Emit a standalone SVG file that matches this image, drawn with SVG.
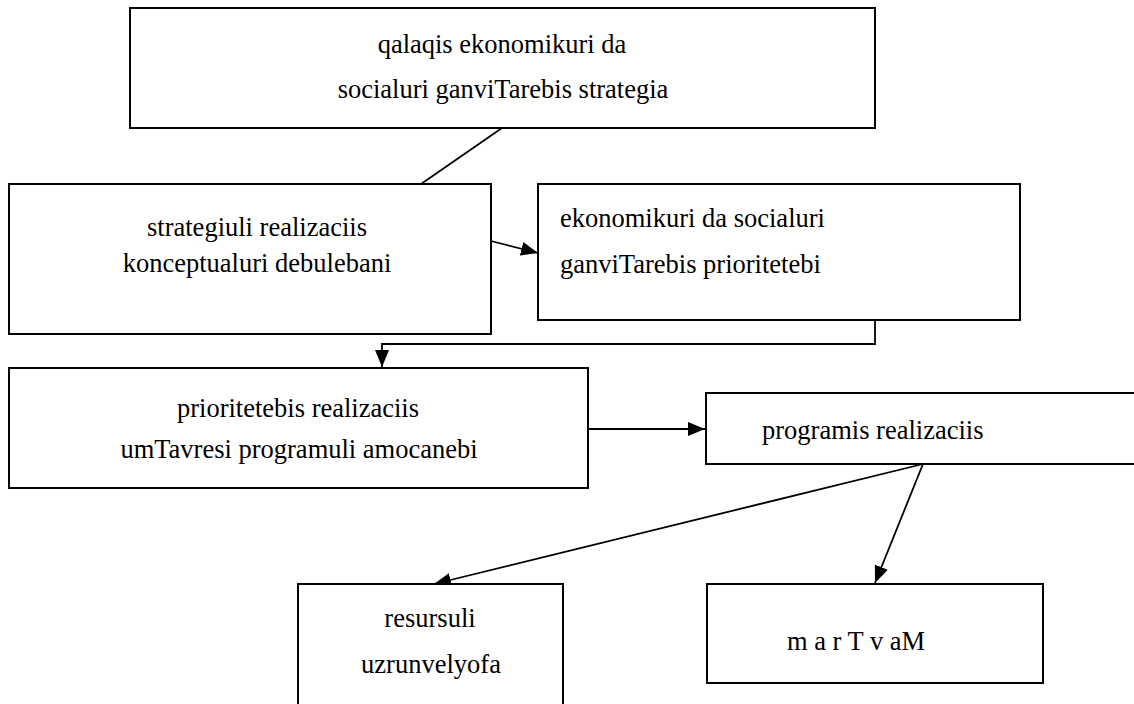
<svg xmlns="http://www.w3.org/2000/svg" width="1134" height="704" viewBox="0 0 1134 704">
<style>
.box{fill:#fff;stroke:#000;stroke-width:2}
.t{font-family:"Liberation Serif","Times New Roman",serif;font-size:26.5px;fill:#000}
.c{text-anchor:middle}
.ln{stroke:#000;stroke-width:1.8;fill:none}
</style>
<defs>
<marker id="ah" markerUnits="userSpaceOnUse" markerWidth="18" markerHeight="14" refX="17" refY="7" orient="auto">
<path d="M0,0 L17,7 L0,14 Z" fill="#000"/>
</marker>
</defs>
<rect width="1134" height="704" fill="#fff"/>
<g id="connectors">
<line class="ln" x1="502" y1="128" x2="421" y2="184"/>
<line class="ln" x1="491" y1="241" x2="538" y2="253" marker-end="url(#ah)"/>
<polyline class="ln" points="875,320 875,344 382,344 382,367" marker-end="url(#ah)"/>
<line class="ln" x1="588" y1="429" x2="705" y2="429" marker-end="url(#ah)"/>
<line class="ln" x1="923" y1="464" x2="434" y2="584" marker-end="url(#ah)"/>
<line class="ln" x1="923" y1="464" x2="875" y2="583" marker-end="url(#ah)"/>
</g>
<g id="n1">
<rect class="box" x="130" y="8" width="745" height="120"/>
<text class="t c" x="502" y="53">qalaqis ekonomikuri da</text>
<text class="t c" x="503" y="98">socialuri ganviTarebis strategia</text>
</g>
<g id="n2">
<rect class="box" x="9" y="184" width="482" height="150"/>
<text class="t c" x="257" y="236">strategiuli realizaciis</text>
<text class="t c" x="257" y="272">konceptualuri debulebani</text>
</g>
<g id="n3">
<rect class="box" x="538" y="184" width="482" height="136"/>
<text class="t" x="560" y="227">ekonomikuri da socialuri</text>
<text class="t" x="560" y="273">ganviTarebis prioritetebi</text>
</g>
<g id="n4">
<rect class="box" x="9" y="368" width="579" height="120"/>
<text class="t c" x="298" y="417">prioritetebis realizaciis</text>
<text class="t c" x="299" y="458">umTavresi programuli amocanebi</text>
</g>
<g id="n5">
<rect class="box" x="706" y="393" width="440" height="71"/>
<text class="t" x="762" y="439">programis realizaciis</text>
</g>
<g id="n6">
<rect class="box" x="298" y="584" width="265" height="130"/>
<text class="t c" x="430" y="627">resursuli</text>
<text class="t c" x="431" y="673">uzrunvelyofa</text>
</g>
<g id="n7">
<rect class="box" x="707" y="584" width="336" height="99"/>
<text class="t" x="787" y="650">m a r T v aM</text>
</g>
</svg>
